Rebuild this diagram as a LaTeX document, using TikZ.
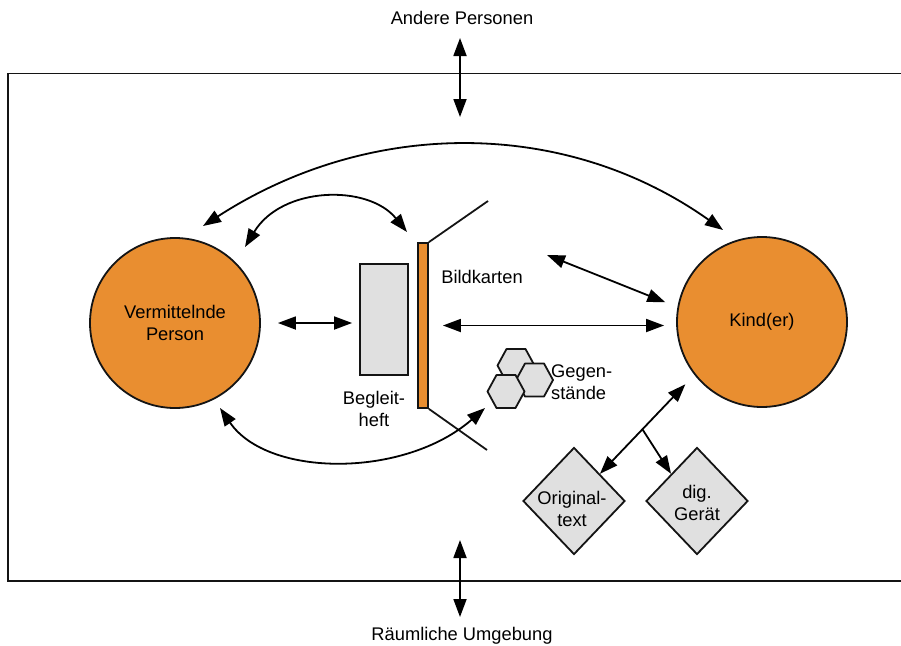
\documentclass[tikz,border=0pt]{standalone}
\usepackage{fontspec}
\setmainfont{Liberation Sans}
\usetikzlibrary{arrows.meta,shapes.geometric}
\definecolor{orng}{RGB}{233,142,48}
\definecolor{lgray}{RGB}{224,224,224}
\definecolor{edge}{RGB}{20,20,20}
\newcommand\hexagonat[1]{\draw[hexs] (#1) ++(-18.5,0) -- ++(9,-16.5) -- ++(19,0) -- ++(9,16.5) -- ++(-9,16.5) -- ++(-19,0) -- cycle;}
\begin{document}
\begin{tikzpicture}[x=1pt,y=-1pt,
  font=\fontsize{18.3}{22.5}\selectfont,
  tip/.tip={Triangle[length=18pt,width=13pt]},
  conn/.style={draw=black, line width=1.8pt, -tip},
  dconn/.style={draw=black, line width=1.8pt, tip-tip},
  person/.style={circle, draw=edge, line width=1.8pt, fill=orng, minimum size=170pt, inner sep=0pt, align=center},
  boxs/.style={draw=edge, line width=1.8pt, fill=lgray, inner sep=0pt},
  dia/.style={diamond, draw=edge, line width=1.8pt, fill=lgray, minimum width=102pt, minimum height=107pt, inner sep=0pt},
  hexs/.style={draw=edge, line width=1.8pt, fill=lgray, line join=round},
  lbl/.style={align=center, inner sep=1pt},
  thin/.style={draw=edge, line width=1.8pt}
]
\useasboundingbox (0,0) rectangle (901,645);

% frame
\draw[thin] (901,73.5) -- (8,73.5) -- (8,581) -- (901,581);

% outside labels
\node[lbl] (AP) at (462,18) {Andere Personen};
\node[lbl] (RU) at (462,636) {Räumliche Umgebung};
\coordinate (a1) at (460,38);
\coordinate (a2) at (460,117);
\coordinate (b1) at (460,540);
\coordinate (b2) at (460,617);
\draw[dconn] (a1) -- (a2);
\draw[dconn] (b1) -- (b2);

% persons
\node[person] (L) at (175,323) {Vermittelnde\\Person};
\node[person] (K) at (762,322) {Kind(er)};

% Begleitheft and Bildkarten
\node[boxs, minimum width=48pt, minimum height=111pt] (B) at (384,319.5) {};
\node[boxs, fill=orng, minimum width=10pt, minimum height=165pt] (C) at (423,325.5) {};
\coordinate (c1) at (488,201);
\coordinate (c2) at (487,450);
\draw[thin] (C.north east) -- (c1);
\draw[thin] (C.south east) -- (c2);
\node[lbl] (BK) at (482,277) {Bildkarten};
\node[lbl] (BH) at (374,409) {Begleit-\\heft};

% Gegenstaende
\hexagonat{516,365.5}
\hexagonat{534.5,380}
\hexagonat{506,391.5}
\node[lbl, align=left, anchor=west] (GS) at (550,382) {Gegen-\\stände};

% diamonds
\node[dia] (O) at (574,501) {};
\node[dia] (D) at (697,501) {};
\node[lbl] (Ot) at (572,509) {Original-\\text};
\node[lbl] (Dt) at (697,503) {dig.\\Gerät};

% connectors
\draw[dconn] ([xshift=17pt]L.east) -- ([xshift=-7pt]B.west |- L.east);
\draw[dconn] ([xshift=14pt]C.east) -- ([xshift=-12pt]C.east -| K.west);
\coordinate (d1) at (547,255);
\draw[dconn, shorten >=13pt] (d1) -- (K.170);

\coordinate (e1) at (203,226);
\coordinate (e2) at (723,230);
\draw[dconn] (e1) .. controls (370,118) and (565,118) .. (e2);

\coordinate (f1) at (245,247);
\coordinate (f2) at (407,232);
\draw[dconn] (f1) .. controls (282,186) and (368,184) .. (f2);

\coordinate (g1) at (220,408);
\coordinate (g2) at (485,408);
\draw[dconn] (g1) .. controls (268,478) and (405,478) .. (g2);

\draw[dconn, shorten <=13pt] (K.218) -- (O.north east);
\path (K.218) -- (O.north east) coordinate[pos=0.55] (br);
\draw[conn] (br) -- (D.north west);
\end{tikzpicture}
\end{document}
